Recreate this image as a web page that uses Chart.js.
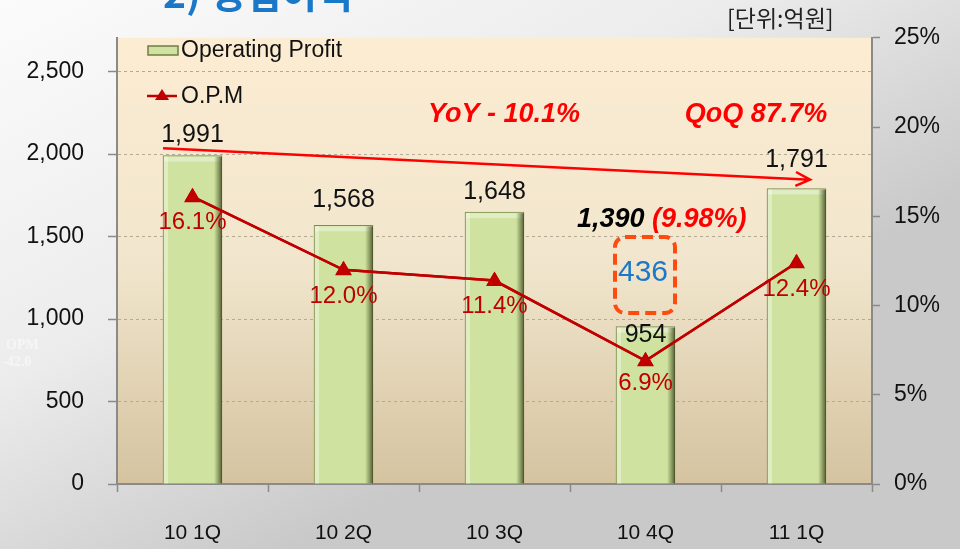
<!DOCTYPE html>
<html>
<head>
<meta charset="utf-8">
<script src="https://cdn.jsdelivr.net/npm/chart.js@4.4.1/dist/chart.umd.min.js"></script>
<style>
  html, body { margin: 0; padding: 0; background: #efefef; }
  #wrap { width: 960px; height: 549px; }
</style>
</head>
<body>
<div id="wrap"><canvas id="chart-op" width="960" height="549"></canvas></div>
<script>
'use strict';

/* ── Data ─────────────────────────────────────────────────── */
const categories = ['10 1Q', '10 2Q', '10 3Q', '10 4Q', '11 1Q'];
const opProfit = [1991, 1568, 1648, 954, 1791];      // 억원
const opm = [16.1, 12.0, 11.4, 6.9, 12.4];           // %
const leftTicks = [0, 500, 1000, 1500, 2000, 2500];
const rightTicks = [0, 5, 10, 15, 20, 25];

// label nudges (px) – bar values above the bar, 4Q sits inside it
const barLabelOffset = [-20, -25, -20, 8, -28];
const opmLabelOffset = [26, 27, 26, 23, 27];

const FONT = '"Liberation Sans", Arial, sans-serif';
const KR = '"Noto Sans CJK KR", "Noto Sans", sans-serif';

function fmt(v) { return v.toLocaleString('en-US'); }

/* ── Decoration plugin ────────────────────────────────────── */
const deco = {
    id: 'deco',
    beforeDraw(chart) {
        const { ctx, chartArea: a, width, height } = chart;
        ctx.save();
        let g = ctx.createLinearGradient(0, 0, width * 0.3, height);
        g.addColorStop(0, '#fbfbfb');
        g.addColorStop(0.55, '#ececec');
        g.addColorStop(1, '#c9c9c9');
        ctx.fillStyle = g;
        ctx.fillRect(0, 0, width, height);
        g = ctx.createLinearGradient(0, a.top, 0, a.bottom);
        g.addColorStop(0, '#fcecd2');
        g.addColorStop(0.5, '#f1e6cd');
        g.addColorStop(1, '#d5c3a0');
        ctx.fillStyle = g;
        ctx.fillRect(a.left, a.top, a.right - a.left, a.bottom - a.top);
        ctx.restore();
    },
    afterDatasetsDraw(chart) {
        const { ctx, scales } = chart;
        const x = scales.x, y = scales.y;
        const pts = chart.getDatasetMeta(0).data;
        const bars = chart.getDatasetMeta(1).data;
        ctx.save();

        // bar bevels
        bars.forEach(b => {
            const l = b.x - b.width / 2, r = b.x + b.width / 2, t = b.y, h = b.base - b.y;
            ctx.fillStyle = 'rgba(255,255,255,0.35)';
            ctx.fillRect(l + 1, t + 1, 4, h - 1);
            ctx.fillRect(l + 1, t + 1, r - l - 2, 5);
            const g = ctx.createLinearGradient(r - 8, 0, r, 0);
            g.addColorStop(0, 'rgba(80,90,40,0)');
            g.addColorStop(1, 'rgba(60,70,30,0.85)');
            ctx.fillStyle = g;
            ctx.fillRect(r - 8, t + 1, 8, h - 1);
        });

        // bar values
        ctx.textAlign = 'center';
        ctx.textBaseline = 'middle';
        ctx.fillStyle = '#111';
        ctx.font = '25px ' + FONT;
        bars.forEach((b, i) => ctx.fillText(fmt(opProfit[i]), b.x, b.y + barLabelOffset[i]));

        // re-draw the OPM line on top of the bevels
        ctx.strokeStyle = '#c00000';
        ctx.lineWidth = 2.5;
        ctx.beginPath();
        pts.forEach((p, i) => (i ? ctx.lineTo(p.x, p.y) : ctx.moveTo(p.x, p.y)));
        ctx.stroke();
        ctx.fillStyle = '#c00000';
        pts.forEach(p => {
            ctx.beginPath();
            ctx.moveTo(p.x, p.y - 9);
            ctx.lineTo(p.x + 8.5, p.y + 5.5);
            ctx.lineTo(p.x - 8.5, p.y + 5.5);
            ctx.closePath();
            ctx.fill();
        });

        // red YoY arrow
        const x0 = x.getPixelForValue(-0.195), y0 = y.getPixelForValue(2035);
        const x1 = x.getPixelForValue(4.09), y1 = y.getPixelForValue(1845);
        ctx.strokeStyle = '#ff0000';
        ctx.lineWidth = 2.5;
        ctx.beginPath();
        ctx.moveTo(x0, y0);
        ctx.lineTo(x1, y1);
        const ang = Math.atan2(y1 - y0, x1 - x0);
        ctx.moveTo(x1 - 16 * Math.cos(ang - 0.45), y1 - 16 * Math.sin(ang - 0.45));
        ctx.lineTo(x1, y1);
        ctx.lineTo(x1 - 16 * Math.cos(ang + 0.45), y1 - 16 * Math.sin(ang + 0.45));
        ctx.stroke();

        // OPM labels
        ctx.fillStyle = '#c00000';
        ctx.font = '24px ' + FONT;
        pts.forEach((p, i) => ctx.fillText(opm[i].toFixed(1) + '%', p.x, p.y + opmLabelOffset[i]));

        // headline annotations
        ctx.font = 'italic bold 27px ' + FONT;
        ctx.fillStyle = '#ff0000';
        ctx.fillText('YoY - 10.1%', 504, 115);
        ctx.fillText('QoQ 87.7%', 756, 115);
        ctx.textAlign = 'left';
        ctx.fillStyle = '#000';
        ctx.fillText('1,390', 577, 220);
        const w1 = ctx.measureText('1,390 ').width;
        ctx.fillStyle = '#ff0000';
        ctx.fillText('(9.98%)', 577 + w1, 220);

        // 4Q extra box
        ctx.strokeStyle = '#ff4a10';
        ctx.lineWidth = 4;
        ctx.setLineDash([11, 6]);
        ctx.beginPath();
        ctx.roundRect(615, 237, 60, 76, 10);
        ctx.stroke();
        ctx.setLineDash([]);
        ctx.textAlign = 'center';
        ctx.fillStyle = '#1e78c8';
        ctx.font = '30px ' + FONT;
        ctx.fillText('436', 643, 273);

        // legend inside plot
        ctx.textAlign = 'left';
        ctx.fillStyle = '#cfe2a0';
        ctx.fillRect(148, 46, 30, 9);
        ctx.strokeStyle = '#6f7d45';
        ctx.lineWidth = 1.5;
        ctx.strokeRect(148, 46, 30, 9);
        ctx.fillStyle = '#111';
        ctx.font = '23px ' + FONT;
        ctx.fillText('Operating Profit', 181, 51);
        ctx.strokeStyle = '#c00000';
        ctx.lineWidth = 2.5;
        ctx.beginPath();
        ctx.moveTo(147, 96);
        ctx.lineTo(177, 96);
        ctx.stroke();
        ctx.fillStyle = '#c00000';
        ctx.beginPath();
        ctx.moveTo(162, 89);
        ctx.lineTo(169, 100);
        ctx.lineTo(155, 100);
        ctx.closePath();
        ctx.fill();
        ctx.fillStyle = '#111';
        ctx.fillText('O.P.M', 181, 97);

        // title, unit, faint stray text
        ctx.fillStyle = '#1a78c8';
        ctx.font = 'bold 39px ' + KR;
        ctx.textBaseline = 'alphabetic';
        ctx.fillText('2) 영업이익', 163, 8);
        ctx.textBaseline = 'middle';
        ctx.fillStyle = '#222';
        ctx.font = '23px ' + KR;
        ctx.fillText('[단위:억원]', 727, 18);
        ctx.fillStyle = 'rgba(255,255,255,0.5)';
        ctx.font = 'bold 14px "Liberation Serif", serif';
        ctx.fillText('OPM', 6, 345);
        ctx.fillText('-42.0', 2, 362);
        ctx.restore();
    }
};

/* ── Chart ────────────────────────────────────────────────── */
const tickFont = { family: FONT, size: 23 };
const config = {
    data: {
        labels: categories,
        datasets: [
            {
                type: 'line', label: 'O.P.M', data: opm, yAxisID: 'y1', order: 0,
                borderColor: '#c00000', borderWidth: 2.5,
                pointStyle: 'triangle', pointRadius: 8,
                pointBackgroundColor: '#c00000', pointBorderColor: '#c00000', pointBorderWidth: 1,
            },
            {
                type: 'bar', label: 'Operating Profit', data: opProfit, yAxisID: 'y', order: 1,
                backgroundColor: '#cfe2a0', borderColor: '#7d8c50', borderWidth: 1,
                barThickness: 59,
            },
        ]
    },
    options: {
        responsive: false, animation: false,
        layout: { padding: { top: 35, left: 0, right: 0, bottom: 0 } },
        plugins: { legend: { display: false }, tooltip: { enabled: false } },
        scales: {
            x: {
                afterFit: s => { s.height = 65; },
                grid: { offset: true, drawOnChartArea: false, tickLength: 8, tickColor: '#8a8a8a', tickWidth: 1.5 },
                border: { color: '#8a8a8a', width: 2 },
                ticks: { color: '#111', padding: 29, font: { family: FONT, size: 21 } }
            },
            y: {
                position: 'left', min: 0, max: 2705,
                afterFit: s => { s.width = 117; },
                afterBuildTicks: s => { s.ticks = leftTicks.map(v => ({ value: v })); },
                grid: { color: '#b3aa98', lineWidth: 1, tickLength: 9, tickColor: '#8a8a8a', tickBorderDash: [], tickWidth: 1.5 },
                border: { color: '#8a8a8a', width: 2, dash: [3, 3] },
                ticks: { color: '#111', padding: 24, font: tickFont, callback: v => fmt(v) }
            },
            y1: {
                position: 'right', min: 0, max: 25,
                afterFit: s => { s.width = 88; },
                afterBuildTicks: s => { s.ticks = rightTicks.map(v => ({ value: v })); },
                grid: { drawOnChartArea: false, tickLength: 8, tickColor: '#8a8a8a', tickWidth: 1.5 },
                border: { color: '#8a8a8a', width: 2 },
                ticks: { color: '#111', padding: 14, font: tickFont, callback: v => v + '%' }
            }
        }
    },
    plugins: [deco]
};

new Chart(document.getElementById('chart-op'), config);
</script>
</body>
</html>
